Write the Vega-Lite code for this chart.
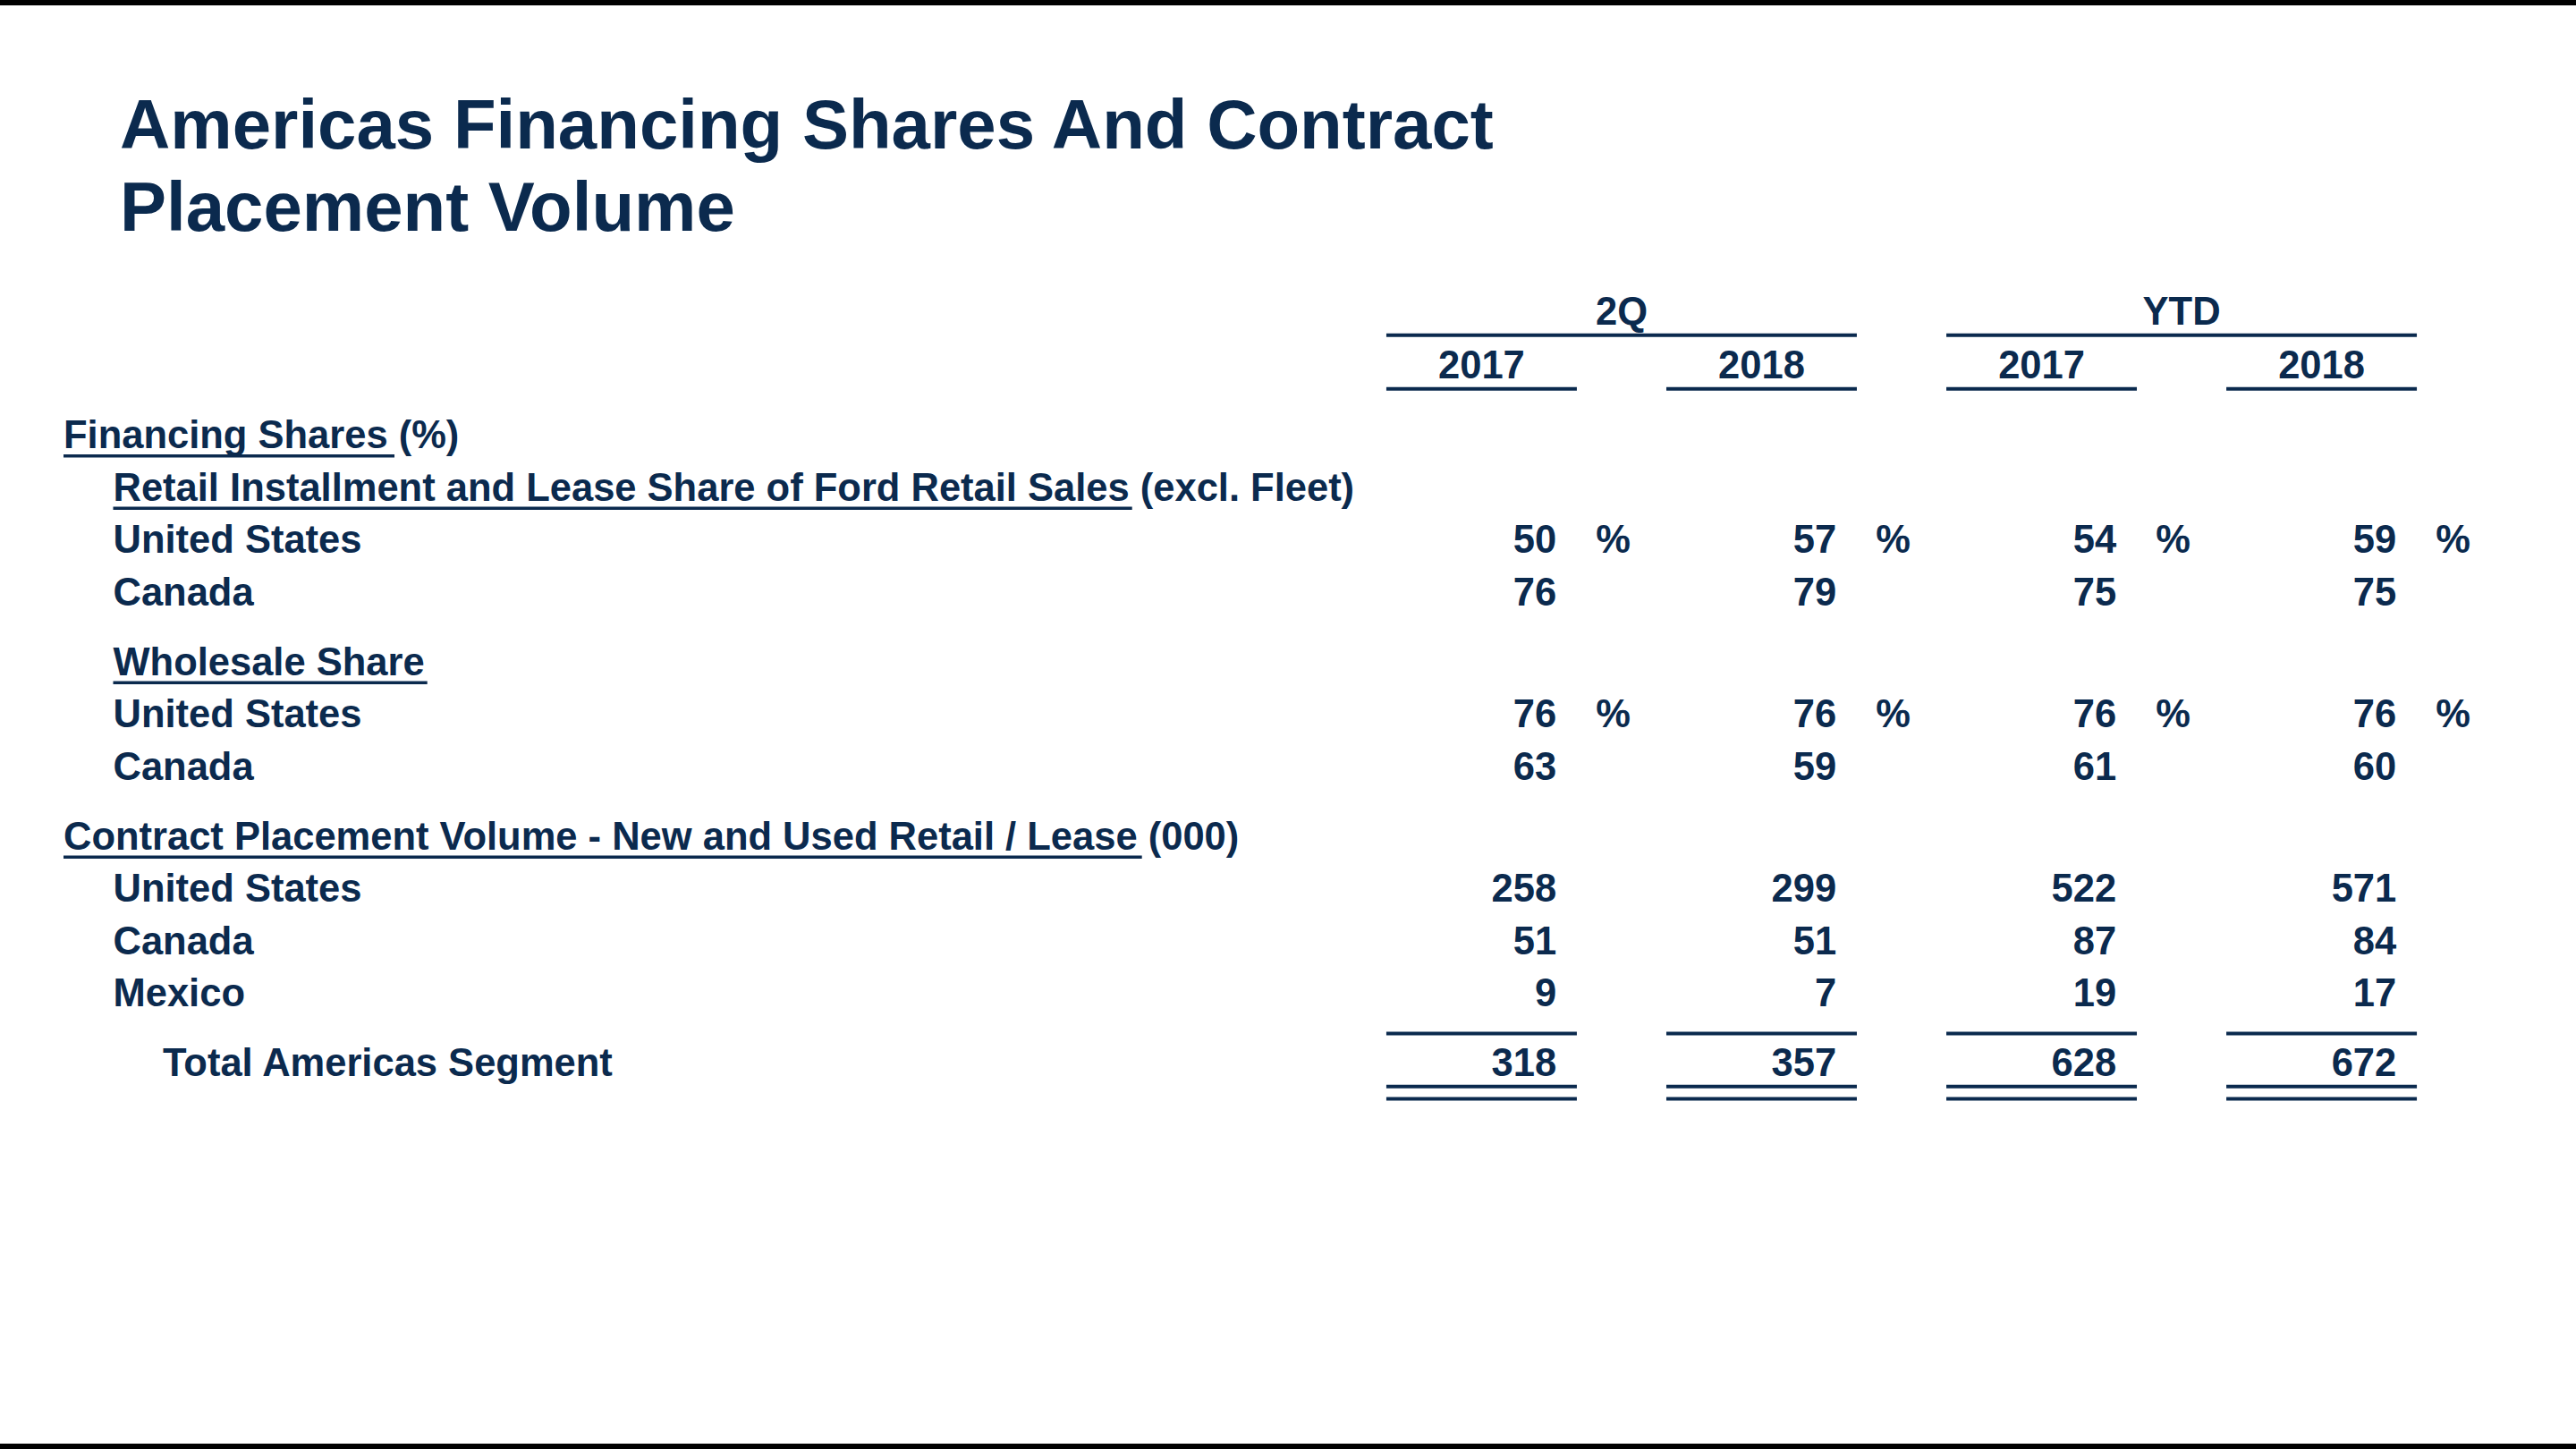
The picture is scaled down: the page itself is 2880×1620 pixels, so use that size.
{
  "$schema": "https://vega.github.io/schema/vega-lite/v6.json",
  "width": 2880,
  "height": 1620,
  "autosize": {"type": "none"},
  "padding": 0,
  "background": "#ffffff",
  "title": {
    "text": ["Americas Financing Shares And Contract", "Placement Volume"],
    "anchor": "start",
    "frame": "group",
    "orient": "top",
    "offset": -336,
    "dx": 134,
    "baseline": "alphabetic",
    "fontSize": 78,
    "lineHeight": 92,
    "font": "Liberation Sans",
    "fontWeight": "bold",
    "color": "#0b2a4e"
  },
  "config": {
    "view": {"stroke": null},
    "font": "Liberation Sans",
    "mark": {"color": "#0b2a4e"},
    "text": {"font": "Liberation Sans", "fontWeight": "bold", "fontSize": 43.5, "baseline": "alphabetic", "color": "#0b2a4e", "fill": "#0b2a4e"},
    "tick": {"thickness": 4, "color": "#0b2a4e"},
    "rule": {"color": "#0b2a4e"}
  },
  "datasets": {
    "edges": [{"edge": "top"}, {"edge": "bottom"}],
    "groups": [
      {"group": "2Q", "row": "hdr_group"},
      {"group": "YTD", "row": "hdr_group"}
    ],
    "cols": [
      {"col": "2Q 2017", "year": "2017", "row": "hdr_year"},
      {"col": "2Q 2018", "year": "2018", "row": "hdr_year"},
      {"col": "YTD 2017", "year": "2017", "row": "hdr_year"},
      {"col": "YTD 2018", "year": "2018", "row": "hdr_year"}
    ],
    "labels": [
      {"row": "fin", "indent": 0, "label": "Financing Shares (%)"},
      {"row": "retail", "indent": 1, "label": "Retail Installment and Lease Share of Ford Retail Sales (excl. Fleet)"},
      {"row": "ret_us", "indent": 1, "label": "United States"},
      {"row": "ret_ca", "indent": 1, "label": "Canada"},
      {"row": "whl", "indent": 1, "label": "Wholesale Share"},
      {"row": "whl_us", "indent": 1, "label": "United States"},
      {"row": "whl_ca", "indent": 1, "label": "Canada"},
      {"row": "cpv", "indent": 0, "label": "Contract Placement Volume - New and Used Retail / Lease (000)"},
      {"row": "cpv_us", "indent": 1, "label": "United States"},
      {"row": "cpv_ca", "indent": 1, "label": "Canada"},
      {"row": "cpv_mx", "indent": 1, "label": "Mexico"},
      {"row": "total", "indent": 2, "label": "Total Americas Segment"}
    ],
    "values": [
      {"row": "ret_us", "col": "2Q 2017", "value": 50, "unit": "%"},
      {"row": "ret_us", "col": "2Q 2018", "value": 57, "unit": "%"},
      {"row": "ret_us", "col": "YTD 2017", "value": 54, "unit": "%"},
      {"row": "ret_us", "col": "YTD 2018", "value": 59, "unit": "%"},
      {"row": "ret_ca", "col": "2Q 2017", "value": 76},
      {"row": "ret_ca", "col": "2Q 2018", "value": 79},
      {"row": "ret_ca", "col": "YTD 2017", "value": 75},
      {"row": "ret_ca", "col": "YTD 2018", "value": 75},
      {"row": "whl_us", "col": "2Q 2017", "value": 76, "unit": "%"},
      {"row": "whl_us", "col": "2Q 2018", "value": 76, "unit": "%"},
      {"row": "whl_us", "col": "YTD 2017", "value": 76, "unit": "%"},
      {"row": "whl_us", "col": "YTD 2018", "value": 76, "unit": "%"},
      {"row": "whl_ca", "col": "2Q 2017", "value": 63},
      {"row": "whl_ca", "col": "2Q 2018", "value": 59},
      {"row": "whl_ca", "col": "YTD 2017", "value": 61},
      {"row": "whl_ca", "col": "YTD 2018", "value": 60},
      {"row": "cpv_us", "col": "2Q 2017", "value": 258},
      {"row": "cpv_us", "col": "2Q 2018", "value": 299},
      {"row": "cpv_us", "col": "YTD 2017", "value": 522},
      {"row": "cpv_us", "col": "YTD 2018", "value": 571},
      {"row": "cpv_ca", "col": "2Q 2017", "value": 51},
      {"row": "cpv_ca", "col": "2Q 2018", "value": 51},
      {"row": "cpv_ca", "col": "YTD 2017", "value": 87},
      {"row": "cpv_ca", "col": "YTD 2018", "value": 84},
      {"row": "cpv_mx", "col": "2Q 2017", "value": 9},
      {"row": "cpv_mx", "col": "2Q 2018", "value": 7},
      {"row": "cpv_mx", "col": "YTD 2017", "value": 19},
      {"row": "cpv_mx", "col": "YTD 2018", "value": 17},
      {"row": "total", "col": "2Q 2017", "value": 318},
      {"row": "total", "col": "2Q 2018", "value": 357},
      {"row": "total", "col": "YTD 2017", "value": 628},
      {"row": "total", "col": "YTD 2018", "value": 672}
    ]
  },
  "layer": [
    {
      "data": {"name": "edges"},
      "mark": {"type": "rule", "color": "#000000", "strokeWidth": 12, "clip": true},
      "encoding": {
        "y": {"field": "edge", "type": "nominal", "scale": {"type": "point", "domain": ["top", "bottom"], "padding": 0}, "axis": null}
      }
    },
    {
      "encoding": {
        "y": {
          "field": "row",
          "type": "nominal",
          "bandPosition": 0,
          "axis": null,
          "scale": {
            "type": "band",
            "domain": ["hdr_group", "gap1", "gap2", "hdr_year", "gap3", "gap4", "gap5", "fin", "gap6", "gap7", "retail", "gap8", "gap9", "ret_us", "gap10", "gap11", "ret_ca", "gap12", "gap13", "gap14", "whl", "gap15", "gap16", "whl_us", "gap17", "gap18", "whl_ca", "gap19", "gap20", "gap21", "cpv", "gap22", "gap23", "cpv_us", "gap24", "gap25", "cpv_ca", "gap26", "gap27", "cpv_mx", "gap28", "gap29", "gap30", "total"],
            "range": [364.5, 1222.5],
            "paddingInner": 0,
            "paddingOuter": 0
          }
        }
      },
      "layer": [
        {
          "data": {"name": "labels"},
          "mark": {"type": "text", "align": "left", "color": "#0b2a4e"},
          "encoding": {
            "x": {"field": "indent", "type": "quantitative", "scale": {"domain": [0, 2], "range": [71, 182], "zero": false, "nice": false}, "axis": null},
            "text": {"field": "label", "type": "nominal"}
          }
        },
        {
          "data": {"name": "labels"},
          "transform": [{"filter": "datum.row === 'fin'"}],
          "mark": {"type": "rule", "strokeWidth": 3.5, "color": "#0b2a4e"},
          "encoding": {
            "x": {"field": "indent", "type": "quantitative", "scale": {"domain": [0, 2], "range": [71, 182], "zero": false, "nice": false}, "axis": null},
            "x2": {"datum": 6.667},
            "y": {"field": "row", "type": "nominal", "bandPosition": 0.45, "axis": null}
          }
        },
        {
          "data": {"name": "labels"},
          "transform": [{"filter": "datum.row === 'retail'"}],
          "mark": {"type": "rule", "strokeWidth": 3.5, "color": "#0b2a4e"},
          "encoding": {
            "x": {"field": "indent", "type": "quantitative", "scale": {"domain": [0, 2], "range": [71, 182], "zero": false, "nice": false}, "axis": null},
            "x2": {"datum": 21.526},
            "y": {"field": "row", "type": "nominal", "bandPosition": 0.45, "axis": null}
          }
        },
        {
          "data": {"name": "labels"},
          "transform": [{"filter": "datum.row === 'whl'"}],
          "mark": {"type": "rule", "strokeWidth": 3.5, "color": "#0b2a4e"},
          "encoding": {
            "x": {"field": "indent", "type": "quantitative", "scale": {"domain": [0, 2], "range": [71, 182], "zero": false, "nice": false}, "axis": null},
            "x2": {"datum": 7.328},
            "y": {"field": "row", "type": "nominal", "bandPosition": 0.45, "axis": null}
          }
        },
        {
          "data": {"name": "labels"},
          "transform": [{"filter": "datum.row === 'cpv'"}],
          "mark": {"type": "rule", "strokeWidth": 3.5, "color": "#0b2a4e"},
          "encoding": {
            "x": {"field": "indent", "type": "quantitative", "scale": {"domain": [0, 2], "range": [71, 182], "zero": false, "nice": false}, "axis": null},
            "x2": {"datum": 21.724},
            "y": {"field": "row", "type": "nominal", "bandPosition": 0.45, "axis": null}
          }
        },
        {
          "data": {"name": "groups"},
          "mark": {"type": "text", "align": "center", "color": "#0b2a4e"},
          "encoding": {
            "x": {"field": "group", "type": "nominal", "bandPosition": 0.5, "scale": {"type": "band", "domain": ["2Q", "YTD"], "range": [1550, 2702], "paddingInner": 0.16, "paddingOuter": 0}, "axis": null},
            "y": {"field": "row", "type": "nominal", "bandPosition": -0.08, "axis": null},
            "text": {"field": "group", "type": "nominal"}
          }
        },
        {
          "data": {"name": "groups"},
          "mark": {"type": "tick", "orient": "horizontal", "size": 526, "thickness": 4, "opacity": 1, "color": "#0b2a4e"},
          "encoding": {
            "x": {"field": "group", "type": "nominal", "bandPosition": 0.5, "scale": {"type": "band", "domain": ["2Q", "YTD"], "range": [1550, 2702], "paddingInner": 0.16, "paddingOuter": 0}, "axis": null},
            "y": {"field": "row", "type": "nominal", "bandPosition": 0.52, "axis": null}
          }
        },
        {
          "data": {"name": "cols"},
          "mark": {"type": "text", "align": "center", "color": "#0b2a4e"},
          "encoding": {
            "x": {"field": "col", "type": "nominal", "bandPosition": 0.5, "scale": {"type": "band", "domain": ["2Q 2017", "2Q 2018", "YTD 2017", "YTD 2018"], "range": [1550, 2702], "paddingInner": 0.32, "paddingOuter": 0}, "axis": null},
            "y": {"field": "row", "type": "nominal", "bandPosition": -0.02, "axis": null},
            "text": {"field": "year", "type": "nominal"}
          }
        },
        {
          "data": {"name": "cols"},
          "mark": {"type": "tick", "orient": "horizontal", "size": 213, "thickness": 4, "opacity": 1, "color": "#0b2a4e"},
          "encoding": {
            "x": {"field": "col", "type": "nominal", "bandPosition": 0.5, "scale": {"type": "band", "domain": ["2Q 2017", "2Q 2018", "YTD 2017", "YTD 2018"], "range": [1550, 2702], "paddingInner": 0.32, "paddingOuter": 0}, "axis": null},
            "y": {"field": "row", "type": "nominal", "bandPosition": 0.6, "axis": null}
          }
        },
        {
          "data": {"name": "values"},
          "mark": {"type": "text", "align": "right", "color": "#0b2a4e"},
          "encoding": {
            "x": {"field": "col", "type": "nominal", "bandPosition": 0.893, "scale": {"type": "band", "domain": ["2Q 2017", "2Q 2018", "YTD 2017", "YTD 2018"], "range": [1550, 2702], "paddingInner": 0.32, "paddingOuter": 0}, "axis": null},
            "text": {"field": "value", "type": "quantitative", "format": "d"}
          }
        },
        {
          "data": {"name": "values"},
          "transform": [{"filter": "datum.unit === '%'"}],
          "mark": {"type": "text", "align": "left", "color": "#0b2a4e"},
          "encoding": {
            "x": {"field": "col", "type": "nominal", "bandPosition": 1.1, "scale": {"type": "band", "domain": ["2Q 2017", "2Q 2018", "YTD 2017", "YTD 2018"], "range": [1550, 2702], "paddingInner": 0.32, "paddingOuter": 0}, "axis": null},
            "text": {"field": "unit", "type": "nominal"}
          }
        },
        {
          "data": {"name": "values"},
          "transform": [{"filter": "datum.row === 'total'"}],
          "mark": {"type": "tick", "orient": "horizontal", "size": 213, "thickness": 4, "opacity": 1, "color": "#0b2a4e"},
          "encoding": {
            "x": {"field": "col", "type": "nominal", "bandPosition": 0.5, "scale": {"type": "band", "domain": ["2Q 2017", "2Q 2018", "YTD 2017", "YTD 2018"], "range": [1550, 2702], "paddingInner": 0.32, "paddingOuter": 0}, "axis": null},
            "y": {"field": "row", "type": "nominal", "bandPosition": -2.44, "axis": null}
          }
        },
        {
          "data": {"name": "values"},
          "transform": [{"filter": "datum.row === 'total'"}],
          "mark": {"type": "tick", "orient": "horizontal", "size": 213, "thickness": 4, "opacity": 1, "color": "#0b2a4e"},
          "encoding": {
            "x": {"field": "col", "type": "nominal", "bandPosition": 0.5, "scale": {"type": "band", "domain": ["2Q 2017", "2Q 2018", "YTD 2017", "YTD 2018"], "range": [1550, 2702], "paddingInner": 0.32, "paddingOuter": 0}, "axis": null},
            "y": {"field": "row", "type": "nominal", "bandPosition": 0.6, "axis": null}
          }
        },
        {
          "data": {"name": "values"},
          "transform": [{"filter": "datum.row === 'total'"}],
          "mark": {"type": "tick", "orient": "horizontal", "size": 213, "thickness": 4, "opacity": 1, "color": "#0b2a4e"},
          "encoding": {
            "x": {"field": "col", "type": "nominal", "bandPosition": 0.5, "scale": {"type": "band", "domain": ["2Q 2017", "2Q 2018", "YTD 2017", "YTD 2018"], "range": [1550, 2702], "paddingInner": 0.32, "paddingOuter": 0}, "axis": null},
            "y": {"field": "row", "type": "nominal", "bandPosition": 1.31, "axis": null}
          }
        }
      ],
      "resolve": {"scale": {"x": "independent"}}
    }
  ],
  "resolve": {"scale": {"x": "independent", "y": "independent"}}
}
